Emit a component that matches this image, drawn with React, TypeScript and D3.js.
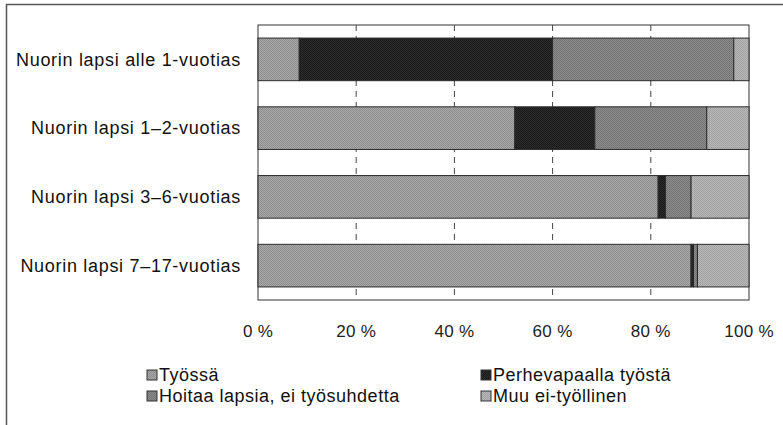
import React from 'react';
import * as d3 from 'd3';

// Categories (rows, top to bottom) and the four shares for each row, in %
const categories = [
  'Nuorin lapsi alle 1-vuotias',
  'Nuorin lapsi 1–2-vuotias',
  'Nuorin lapsi 3–6-vuotias',
  'Nuorin lapsi 7–17-vuotias',
];
const seriesNames = ['Työssä', 'Perhevapaalla työstä', 'Hoitaa lapsia, ei työsuhdetta', 'Muu ei-työllinen'];
const tyossa = [8.4, 52.3, 81.5, 88.2];
const perhevapaalla = [51.6, 16.3, 1.5, 0.5];
const hoitaa = [36.9, 22.8, 5.2, 0.8];
const muu = [3.1, 8.6, 11.8, 10.5];
const tickValues = [0, 20, 40, 60, 80, 100];

const W = 783;
const H = 425;
const margin = { top: 25, right: 34, bottom: 125, left: 258 };

// fill colours: [base, dot] for a fine halftone look
const shades = [
  ['#a8a8a8', '#8e8e8e'],
  ['#2c2c2c', '#1a1a1a'],
  ['#8c8c8c', '#747474'],
  ['#b8b8b8', '#a2a2a2'],
];

export default function App() {
  const rows = categories.map((c, i) => ({
    cat: c,
    values: [tyossa[i], perhevapaalla[i], hoitaa[i], muu[i]],
  }));

  const x = d3.scaleLinear().domain([0, 100]).range([margin.left, W - margin.right]);
  const y = d3.scaleBand().domain(categories).range([margin.top, H - margin.bottom]).paddingInner(0.38).paddingOuter(0.19);

  const font = 'Arial, "Liberation Sans", sans-serif';

  return (
    <div style={{ position: 'fixed', left: 0, top: 0 }}>
      <svg width={W} height={H} style={{ display: 'block', background: '#fff' }}>
        <defs>
          {shades.map((s, i) => (
            <pattern key={i} id={`pat${i}`} width={2} height={2} patternUnits="userSpaceOnUse">
              <rect width={2} height={2} fill={s[0]} />
              <rect width={1} height={1} fill={s[1]} />
              <rect x={1} y={1} width={1} height={1} fill={s[1]} />
            </pattern>
          ))}
        </defs>

        {/* outer frame */}
        <path d={`M6.5,${H} V4.5 H${W}`} fill="none" stroke="#555" strokeWidth={1.5} />

        {/* plot area */}
        <rect x={x(0)} y={margin.top} width={x(100) - x(0)} height={H - margin.bottom - margin.top}
          fill="#fff" stroke="#333" strokeWidth={1} />

        {/* dashed gridlines */}
        {tickValues.slice(1, -1).map(t => (
          <line key={t} x1={x(t)} x2={x(t)} y1={margin.top} y2={H - margin.bottom}
            stroke="#444" strokeWidth={1} strokeDasharray="6,5" />
        ))}

        {/* stacked bars */}
        {rows.map(r => {
          let acc = 0;
          return r.values.map((v, j) => {
            const x0 = x(acc);
            acc += v;
            const x1 = x(acc);
            return (
              <rect key={r.cat + j} x={x0} y={y(r.cat)} width={x1 - x0} height={y.bandwidth()}
                fill={`url(#pat${j})`} stroke="#2a2a2a" strokeWidth={1} />
            );
          });
        })}

        {/* category labels */}
        {categories.map(c => (
          <text key={c} x={margin.left - 17} y={(y(c) ?? 0) + y.bandwidth() / 2} dy="0.35em"
            textAnchor="end" fontFamily={font} fontSize={18} letterSpacing={0.7} fill="#111">{c}</text>
        ))}

        {/* x tick labels */}
        {tickValues.map(t => (
          <text key={t} x={x(t)} y={H - margin.bottom + 37} textAnchor="middle"
            fontFamily={font} fontSize={17} letterSpacing={0.3} fill="#222">{`${t} %`}</text>
        ))}

        {/* legend */}
        {seriesNames.map((s, i) => {
          const lx = i % 2 === 0 ? 147 : 481;
          const ly = 375 + Math.floor(i / 2) * 21;
          return (
            <g key={s} transform={`translate(${lx},${ly})`}>
              <rect x={0} y={-5} width={10} height={10} fill={`url(#pat${i})`} stroke="#333" strokeWidth={1} />
              <text x={12} y={0} dy="0.35em" fontFamily={font} fontSize={18} letterSpacing={0.5} fill="#111">{s}</text>
            </g>
          );
        })}
      </svg>
    </div>
  );
}
